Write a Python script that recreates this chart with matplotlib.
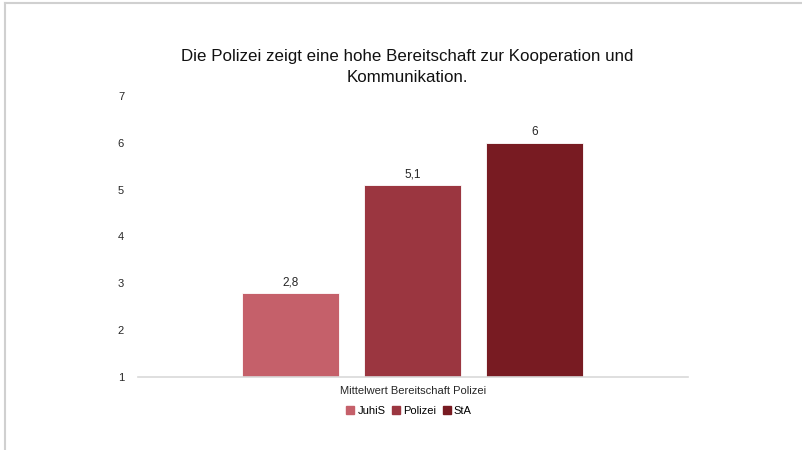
import matplotlib.pyplot as plt
from matplotlib.patches import Patch

plt.rcParams['font.family'] = ['Liberation Sans', 'DejaVu Sans']

groups = ['JuhiS', 'Polizei', 'StA']
values = [2.8, 5.1, 6.0]
labels = ['2,8', '5,1', '6']
colors = ['#C5606A', '#9B3640', '#781B22']
yticks = [1, 2, 3, 4, 5, 6, 7]

fig = plt.figure(figsize=(8.03, 4.5), dpi=100)
ax = fig.add_axes([138/803, 1 - 377/450, 550/803, 281/450])

x = [0, 1, 2]
w = 97/122
half = 550/122/2
ax.bar(x, [v - 1 for v in values], bottom=1, width=w, color=colors,
       edgecolor='white', linewidth=0.6, zorder=2)
for xi, v, lab in zip(x, values, labels):
    ax.text(xi, v + 0.1, lab, ha='center', va='bottom', fontsize=8.5, color='#262626')

ax.set_xlim(1 - half, 1 + half)
ax.set_ylim(1, 7)
ax.set_yticks(yticks)
ax.set_yticklabels([str(t) for t in yticks], fontsize=8, color='#262626')
ax.set_xticks([])
ax.tick_params(axis='y', length=0, pad=10)
for s in ['top', 'right', 'left']:
    ax.spines[s].set_visible(False)
ax.spines['bottom'].set_color('#D9D9D9')
ax.spines['bottom'].set_linewidth(1.2)

fig.text(407/803, 1 - 57/450, 'Die Polizei zeigt eine hohe Bereitschaft zur Kooperation und',
         ha='center', va='center', fontsize=12.2, color='#111111')
fig.text(407/803, 1 - 77/450, 'Kommunikation.',
         ha='center', va='center', fontsize=12.2, color='#111111')
fig.text(413/803, 1 - 391/450, 'Mittelwert Bereitschaft Polizei',
         ha='center', va='center', fontsize=8, color='#262626')

handles = [Patch(color=c, label=g) for c, g in zip(colors, groups)]
fig.legend(handles=handles, loc='center', bbox_to_anchor=(409/803, 1 - 411/450),
           ncol=3, frameon=False, fontsize=8, handlelength=0.7, handleheight=0.7,
           handletextpad=0.3, columnspacing=0.6)

# light frame lines at top and left edge
fig.add_artist(plt.Line2D([5/803, 1], [1 - 3/450, 1 - 3/450], color='#D0D0D0', lw=1.5))
fig.add_artist(plt.Line2D([5/803, 5/803], [0, 1 - 3/450], color='#D0D0D0', lw=1.5))

fig.savefig('out.png', dpi=100)
